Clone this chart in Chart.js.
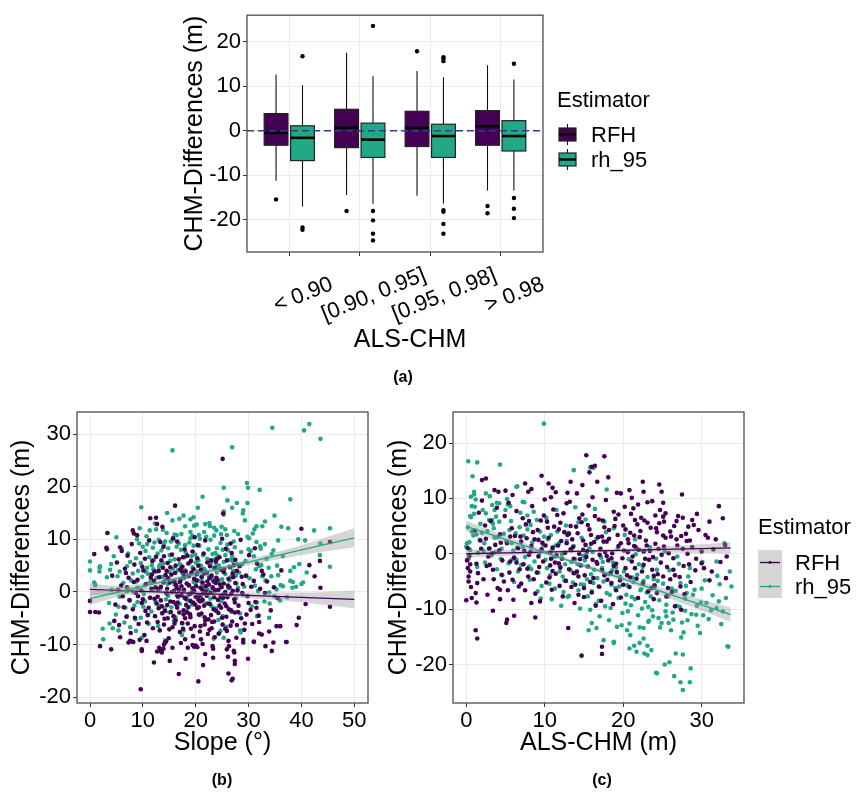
<!DOCTYPE html>
<html><head><meta charset="utf-8">
<script src="https://cdn.jsdelivr.net/npm/chart.js@4.4.0/dist/chart.umd.min.js"></script>
<style>
body{margin:0;background:#fff;width:859px;height:793px;overflow:hidden;position:relative;font-family:"Liberation Sans",Arial,sans-serif}
canvas{position:absolute}
.lab{position:absolute;font-weight:bold;font-size:16px;color:#000;transform:translate(-50%,-50%);white-space:nowrap}
</style></head><body>
<canvas id="ca" width="859" height="395" style="left:0;top:0"></canvas>
<canvas id="cb" width="400" height="398" style="left:0;top:395px"></canvas>
<canvas id="cc" width="479" height="398" style="left:380px;top:395px"></canvas>
<div class="lab" style="left:403px;top:377px">(a)</div>
<div class="lab" style="left:222px;top:780px">(b)</div>
<div class="lab" style="left:602px;top:780px">(c)</div>
<script>
// ---------------- DATA ----------------
const estimators = ['RFH', 'rh_95'];
const boxCategories = ['< 0.90', '[0.90, 0.95]', '[0.95, 0.98]', '> 0.98'];
// [lower whisker, Q1, median, Q3, upper whisker]
const rfhBoxStats = [[-11.2,-3.26,-0.5,3.84,12.6],[-14.4,-3.8,0.65,4.8,17.5],[-14.6,-3.55,0.65,4.35,13.4],[-13.4,-3.26,1.0,4.5,14.7]];
const rh95BoxStats = [[-17.0,-6.7,-1.6,1.1,10.2],[-16.4,-6.0,-2.0,1.7,12.2],[-16.3,-6.0,-1.2,1.45,12.0],[-13.4,-4.55,-1.2,2.25,11.5]];
const rfhOutliers = [[-15.4],[-18.0],[17.8],[-16.9,-18.5]];
const rh95Outliers = [[16.7,-21.7,-22.2],[23.5,-18.0,-20.1,-23.1,-24.6],[16.5,16.2,15.6,-17.8,-18.2,-20.9,-23.1],[15.0,-15.1,-17.5,-19.6]];
const boxYTicks = [-20,-10,0,10,20];

// Panel (b): Slope vs CHM-Differences
const slopeTicks = [0,10,20,30,40,50];
const slopeDiffTicks = [-20,-10,0,10,20,30];
const slopeRfhPoints = [
[0.8,7.2],[3.2,8.1],[3.3,11.2],[0,-1.7],[0,-3.8],[1,-3.8],[1.7,-3.9],[1.9,-10.3],[4,-10.9],[7.6,-9.3],[8.2,-9.5],[9.8,-10.9],[9.6,-18.5],[10.7,-9.3],[12.1,-13.4],[13.1,-10.6],[13.6,-11.5],[13.9,-10.8],[13.3,-11.2],[14.2,-9.6],[14.0,-10.0],[15.1,-13.1],[15.6,-10.6],[16.8,-15.6],[18,-9.0],[18.1,-12.7],[18.5,-10.6],[19.4,-10.1],[19.7,-10.4],[20.0,-10.2],[20.3,-10.5],[20.5,-17.0],[21.4,-13.9],[21.3,-9.9],[23.2,-10.3],[23.3,-10.8],[23.3,-12.5],[25.9,-10.9],[26.1,-12.3],[26.3,-10.3],[26.2,-15.5],[26.8,-16.8],[27.0,-16.5],[27.2,-11.2],[27.3,-11.5],[27.4,-13.1],[27.4,-13.7],[29,-9.6],[29.9,-12.7],[31,-9.5],[33.2,-10.3],[34.4,-11.2],[34.7,-9.6],[37.1,-9.5],
[25.1,25.3],[16.1,16.4],[11.4,14.0],[12.7,12.9],[25.2,14.9],[40.0,12.0],[45.4,9.5],[41.5,5.1],[43.5,5.9],[42.5,3.0],[43.6,0.8],[45.4,-2.8],[40.8,-2.3],[39.5,-4.9],[39.1,-6.3],[37.2,-9.5],[36.0,-6.5],[35.3,-6.5],[33.9,-7.5],[32.0,-7.9],[31.0,-9.4],
[7.3,-9.6],[7.9,-9.4],[9.8,-11.2],[12.7,-11.3],[13.6,-10.9],[21.8,-11.8],[3.1,8.4],[5.7,8.5],[8.1,11.7],[8.3,11.1],[12.5,14.1],[13.7,12.4],
[4.2,3.1],[4.8,-2.4],[5.1,5.6],[5.5,-6.3],[5.9,1.2],[6.2,-0.8],[6.6,4.4],[6.9,-4.7],[7.3,2.7],[7.7,-7.8],[7.1,6.9],[5.3,0.4],[6.4,-2.9],[7.9,9.1],[4.6,-5.5],[6.0,7.8],[7.5,-1.6],[5.7,-8.6],[7.0,0.9],[6.8,3.6],
[8.1,-3.3],[8.4,5.2],[8.7,-0.2],[9.0,2.3],[9.2,-6.1],[9.5,7.4],[9.8,-2.1],[10.1,4.1],[10.3,-8.2],[10.6,1.5],[10.9,-4.4],[11.2,9.8],[11.4,-1.1],[11.7,3.3],[11.9,-6.9],[8.9,10.8],[9.4,-9.1],[10.4,6.3],[11.1,-3.0],[11.6,0.6],[8.3,1.9],[10.8,-5.8],[9.7,0.3],[11.8,5.9],[10.0,-1.4],
[12.1,2.1],[12.3,-4.6],[12.5,6.7],[12.8,-0.9],[13.0,4.0],[13.2,-7.3],[13.4,1.0],[13.6,-2.7],[13.9,8.6],[14.1,-5.1],[14.3,3.2],[14.5,-0.3],[14.7,5.5],[14.9,-8.8],[15.1,1.8],[15.3,-3.8],[15.5,7.1],[15.8,-1.9],[15.9,0.2],[12.6,-2.2],[13.3,9.5],[14.0,-6.2],[14.8,2.6],[15.6,-6.7],[12.2,3.9],[13.7,-4.0],[15.2,4.7],[12.9,0.5],[14.4,-9.4],[15.7,10.2],[13.5,6.0],[14.6,-2.5],
[16.1,3.6],[16.2,-5.4],[16.4,0.8],[16.6,-2.0],[16.8,6.2],[17.0,-7.6],[17.1,2.2],[17.3,-0.6],[17.5,4.8],[17.7,-3.5],[17.9,8.1],[18.1,-1.3],[18.3,1.6],[18.5,-6.0],[18.7,3.0],[18.9,-4.2],[19.1,5.9],[19.3,-0.1],[19.5,-8.4],[19.7,2.5],[19.9,-2.4],[16.5,9.6],[17.2,-9.7],[17.8,0.4],[18.4,6.9],[19.0,-1.7],[19.6,4.3],[16.9,-3.9],[18.0,-5.0],[19.4,7.7],[16.3,1.3],[17.6,-7.0],[18.8,-0.4],[19.8,10.4],[17.4,3.9],[18.6,-2.9],
[20.1,1.1],[20.3,-3.1],[20.5,5.0],[20.7,-0.7],[20.9,-6.5],[21.1,2.9],[21.3,-1.5],[21.5,7.3],[21.7,-4.8],[21.9,0.1],[22.1,3.7],[22.3,-8.0],[22.5,1.4],[22.7,-2.3],[22.9,6.0],[23.1,-5.7],[23.3,0.7],[23.5,-1.0],[23.7,4.5],[23.9,-3.6],[20.4,8.9],[21.0,-9.0],[21.6,-2.6],[22.2,5.6],[22.8,-0.2],[23.4,2.0],[20.6,-4.3],[21.8,9.8],[23.0,-6.9],[23.8,1.7],[20.2,3.4],[22.4,-5.2],[21.2,0.5],[23.6,-8.6],[22.6,2.6],[20.8,-1.8],
[24.1,2.3],[24.3,-4.0],[24.5,6.6],[24.7,-0.9],[24.9,0.9],[25.1,-6.2],[25.3,3.8],[25.5,-2.2],[25.7,8.2],[25.9,-7.4],[26.1,1.2],[26.3,-3.3],[26.5,4.7],[26.7,-0.4],[26.9,-5.6],[27.1,2.8],[27.3,-1.4],[27.5,6.1],[27.7,-8.7],[27.9,0.3],[24.4,-7.9],[25.0,10.1],[25.6,0.0],[26.2,-9.3],[26.8,7.4],[27.4,-3.9],[24.8,4.2],[25.8,-4.7],[26.6,9.2],[27.8,-6.3],[25.2,-1.1],[27.0,3.5],
[28.1,-2.6],[28.3,4.9],[28.6,-5.0],[28.9,1.5],[29.2,-7.2],[29.5,3.1],[29.8,-0.8],[30.1,7.0],[30.4,-3.4],[30.7,-6.1],[31.0,2.1],[31.3,-1.9],[31.6,5.4],[31.9,-4.5],[32.2,0.6],[32.5,-8.1],[32.8,3.3],[28.5,9.9],[29.0,-9.1],[30.0,-2.1],[31.2,8.3],[32.0,-5.7],[33.1,-0.2],[33.5,2.0],[34.2,-3.5],[34.8,0.9],[35.5,-1.2],[36.2,4.1],
[12.4,0.9],[12.8,-5.7],[13.1,2.8],[13.4,-1.6],[13.8,4.6],[14.2,-3.6],[14.6,0.6],[15.0,-7.1],[15.4,3.3],[15.8,-4.6],[16.2,5.0],[16.6,-0.8],[17.0,1.9],[17.4,-5.9],[17.8,3.0],[18.2,-2.5],[18.6,5.4],[19.0,-4.8],[19.4,0.7],[19.8,-6.5],[20.2,2.2],[20.6,-2.9],[21.0,4.2],[21.4,-0.3],[21.8,-5.4],[22.2,2.0],[22.6,-7.2],[23.0,3.1],[23.4,-3.3],[23.8,5.8],[24.2,-1.5],[24.6,1.4],[25.0,-4.9],[25.4,4.4],[25.8,-2.7],[26.2,2.5],[26.6,-6.4],[27.0,0.2],[27.4,-2.0],[27.8,4.0],
[12.2,-1.3],[13.0,-3.1],[13.9,1.8],[14.7,-5.0],[15.5,0.0],[16.3,-2.4],[17.1,4.3],[17.9,-1.1],[18.7,1.3],[19.5,-2.0],[20.3,6.4],[21.1,-4.1],[21.9,1.1],[22.7,4.9],[23.5,-5.6],[24.3,0.4],[25.1,-0.6],[25.9,6.0],[26.7,-3.5],[27.5,1.7],
[14.0,6.8],[15.2,-1.8],[16.0,-6.0],[16.8,0.4],[17.6,6.6],[18.4,-3.9],[19.2,3.7],[20.0,-0.9],[20.8,-7.5],[21.6,3.5],[22.4,-2.2],[23.2,0.9],[24.0,6.2],[24.8,-3.0],[25.6,-7.0],[26.4,0.9],[27.2,5.1],[28.0,-3.8],[28.8,-0.2],[29.6,-4.3],
[11.5,2.7],[10.5,-3.6],[9.9,4.8],[9.1,-0.8],[8.5,-4.9],[30.5,1.0],[31.5,-3.0],[32.5,4.0],[29.3,-6.0],[28.7,2.9],
[19.7,0.2],[20.5,-1.5],[21.3,1.8],[18.9,-0.4],[22.1,-0.7],[17.3,1.1],[23.7,0.3],[16.5,-3.0],[24.5,-2.6],[15.9,2.0],[25.3,1.6],[19.1,-7.0],[21.7,-6.2],[20.9,0.8],[18.1,3.9],[22.9,-4.4],[23.9,2.7],[17.7,-4.3],[26.0,-1.0],[14.5,4.0]
];
const slopeRh95Points = [
[15.6,26.9],[9.7,16.1],[14.6,15.0],[21.3,18.1],[25.3,19.8],[25.3,15.3],[20.4,16.0],[17.7,14.5],[19.0,13.8],[19.6,14.2],[21.8,12.9],[22.7,12.5],[23.5,12.2],[23.9,11.7],[25.6,11.9],[24.8,11.0],[11.3,11.7],[12.5,11.9],[8.9,10.0],[10.8,9.1],[14.2,9.6],[15.8,10.0],[18.0,12.5],[16.4,10.8],[19.0,11.4],[19.3,10.7],[20.6,10.8],
[34.5,31.2],[40.5,30.7],[41.5,31.9],[43.6,29.1],[26.9,27.5],[29.7,20.7],[29.9,19.8],[32.1,19.4],[37.9,17.6],[26.0,17.4],[27.8,16.9],[29.8,16.9],[26.9,16.0],[29.0,15.5],[28.9,14.9],[25.3,14.7],[34.9,14.5],[33.1,13.4],[32.6,12.5],[31.5,12.5],[31.1,11.9],[29.3,13.6],[36.2,12.4],[37.5,12.1],[42.4,11.7],[45.4,12.1],[39.4,10.0],[40.7,9.8],[43.6,9.2],[35.6,9.8],[34.7,7.9],[33.1,9.1],[31.5,9.5],[30.1,10.2],[32.3,8.2],
[39.6,5.3],[45.4,4.8],[37.9,2.1],[38.3,0.8],[40.0,1.5],[39.0,1.0],[36.0,-1.6],[34.3,3.0],[35.6,3.2],[36.1,1.3],[34.0,-2.2],[33.9,-4.9],[31.6,-2.0],[28.5,-7.7],[28.4,-7.3],[25.1,-4.6],[24.7,-7.4],[43.5,7.0],[41.0,3.7],[37.9,4.0],[38.4,1.9],[40.3,1.8],[36.5,1.1],[35.3,0.5],[33.9,-0.1],
[0,5.8],[0,4.1],[1.8,3.9],[1.9,4.9],[0.8,1.8],[1.0,1.3],[2.5,-9.0],[2.4,-7.0],[3.7,-6.0],[5.4,-7.3],[4.0,5.3],[1.8,4.6],[3.8,4.2],[5.6,3.9],[7.0,-4.6],[7.6,-6.7],[8.7,-7.4],[9.8,-8.7],[14.2,-9.2],[17.4,-8.2],[17.7,-7.3],[23.4,-8.9],[24.3,-8.0],[25.3,-8.7],
[3.2,2.8],[3.6,-2.1],[4.1,0.4],[4.5,6.8],[4.9,-4.3],[5.2,3.0],[5.6,-0.9],[6.0,8.2],[6.3,1.7],[6.7,-3.0],[7.0,4.9],[7.4,-1.5],[7.8,2.2],[5.0,10.4],[6.5,-5.8],[7.2,7.3],[4.3,-6.9],[6.9,0.1],[7.6,5.7],[5.4,-2.8],
[8.1,3.5],[8.4,-2.6],[8.7,6.4],[9.0,0.8],[9.3,9.2],[9.6,-4.9],[9.9,2.9],[10.2,-0.4],[10.5,7.8],[10.8,4.6],[11.1,-6.1],[11.4,1.9],[11.7,5.1],[8.6,-5.2],[9.4,12.1],[10.1,-2.8],[10.7,10.6],[11.3,-1.1],[11.9,8.4],[9.1,4.0],[10.4,1.3],[11.6,-3.7],[8.2,0.0],[11.0,3.4],
[12.1,6.1],[12.4,-1.8],[12.7,3.9],[13.0,9.9],[13.3,0.6],[13.6,-4.1],[13.9,5.4],[14.2,2.3],[14.5,11.2],[14.8,-0.7],[15.1,7.0],[15.4,-2.9],[15.7,4.4],[12.3,13.0],[12.9,-6.5],[13.5,7.9],[14.1,-3.2],[14.7,1.5],[15.3,9.6],[15.9,-5.4],[12.6,2.7],[13.8,11.8],[14.4,-1.4],[15.0,3.8],[15.6,13.6],[13.1,4.8],
[16.1,2.0],[16.4,8.6],[16.7,-1.0],[17.0,5.3],[17.3,11.0],[17.6,0.2],[17.9,6.6],[18.2,-3.6],[18.5,3.1],[18.8,9.4],[19.1,-0.3],[19.4,4.7],[19.7,12.6],[16.2,-4.8],[16.9,13.9],[17.5,-6.0],[18.1,7.5],[18.7,1.2],[19.3,-2.4],[19.9,7.1],[16.6,4.1],[17.8,2.6],[19.0,10.2],[18.4,-0.9],[17.2,8.0],[19.6,1.9],[16.0,10.9],[18.9,5.6],
[20.1,3.3],[20.4,-0.6],[20.7,8.8],[21.0,5.0],[21.3,1.4],[21.6,11.4],[21.9,-2.2],[22.2,6.3],[22.5,3.0],[22.8,9.9],[23.1,-0.1],[23.4,4.6],[23.7,7.4],[20.2,12.8],[20.8,-4.4],[21.4,7.0],[22.0,0.9],[22.6,13.1],[23.2,2.4],[23.8,-3.1],[20.5,6.0],[21.7,4.1],[22.9,5.5],[23.5,10.7],[21.2,-1.7],[22.4,8.1],[20.9,2.1],[23.9,5.2],
[24.1,6.9],[24.4,2.1],[24.7,9.3],[25.0,-1.3],[25.3,5.7],[25.6,3.4],[25.9,10.8],[26.2,0.7],[26.5,6.1],[26.8,-3.8],[27.1,4.0],[27.4,8.5],[27.7,1.6],[24.3,-5.3],[24.9,12.4],[25.5,-0.2],[26.1,7.9],[26.7,2.9],[27.3,11.6],[27.9,5.3],[24.6,4.5],[25.8,-6.6],[26.4,4.8],[27.6,-1.2],[25.1,8.0],[26.9,6.7],
[28.2,3.7],[28.6,7.6],[29.0,-0.5],[29.4,5.9],[29.8,10.5],[30.2,2.6],[30.6,-2.7],[31.0,6.8],[31.4,4.3],[31.8,0.2],[32.2,8.7],[32.6,3.0],[33.0,-1.8],[33.4,6.3],[33.8,4.6],[28.4,-4.1],[29.2,1.0],[30.0,8.1],[30.8,11.1],[31.6,-4.6],[32.4,5.1],[33.2,2.2],[34.4,7.2],[34.9,-0.8],[35.4,5.0],[36.5,6.8],[37.3,-1.0],[38.6,4.7],
[8.8,2.0],[9.6,5.5],[10.4,-1.8],[11.2,6.6],[12.0,0.5],[12.8,7.3],[13.6,2.9],[14.4,-0.2],[15.2,5.9],[16.0,1.4],[16.8,9.2],[17.6,3.5],[18.4,-1.6],[19.2,6.8],[20.0,1.5],[20.8,10.1],[21.6,4.4],[22.4,0.3],[23.2,7.2],[24.0,3.7],[24.8,-1.7],[25.6,7.0],[26.4,2.2],[27.2,9.6],[28.0,0.8],[28.8,5.3],[29.6,3.0],[30.4,7.8],[31.2,1.2],[32.0,4.9],
[9.0,-1.9],[10.0,8.6],[11.0,-4.4],[12.0,4.3],[13.0,-2.6],[14.0,9.0],[15.0,-3.9],[16.0,6.2],[17.0,-2.3],[18.0,8.9],[19.0,-4.4],[20.0,5.6],[21.0,-1.0],[22.0,10.5],[23.0,-2.7],[24.0,8.3],[25.0,2.4],[26.0,-0.8],[27.0,5.9],[28.0,11.0],
[13.2,5.1],[14.8,8.3],[16.4,-0.6],[18.0,4.1],[19.6,8.8],[21.2,2.7],[22.8,-1.3],[24.4,5.0],[26.0,9.0],[27.6,3.1],[10.6,3.8],[12.2,9.4],[17.2,5.0],[20.4,3.9],[23.6,6.2]
];
const slopeFitX = [0,10,20,30,40,50];
const slopeRh95Fit = [-1.25,1.06,3.37,5.68,7.99,10.3];
const slopeRh95Upper = [0.0,1.65,3.8,6.2,8.9,12.1];
const slopeRh95Lower = [-2.5,0.45,2.9,5.1,7.0,8.5];
const slopeRfhFit = [0.5,0.12,-0.26,-0.64,-1.02,-1.4];
const slopeRfhUpper = [1.6,0.7,0.19,-0.1,-0.1,0.3];
const slopeRfhLower = [-0.6,-0.46,-0.71,-1.18,-1.94,-3.1];

// Panel (c): ALS-CHM vs CHM-Differences
const chmTicks = [0,10,20,30];
const chmDiffTicks = [-20,-10,0,10,20];
const chmRfhPoints = [
[15.3,17.8],[17.6,17.6],[16.0,15.7],[16.4,15.9],[15.7,14.7],[16.7,13.0],[9.6,14.1],[7.9,11.2],[8.3,11.7],[2.0,13.3],[2.5,13.6],[3.6,11.5],[4.1,11.2],[7.5,12.7],[10.5,12.7],[11.0,11.9],[11.4,11.1],[10.8,10.2],[5.0,11.4],[5.9,10.6],[13.3,13.0],[14.8,12.4],[14.1,10.9],[12.9,11.0],
[1.2,-7.1],[0.7,-8.0],[1.3,-8.8],[0.0,-8.4],[0.5,-3.2],[0.3,-5.0],[1.2,-13.8],[1.4,-15.3],[3.4,-10.3],[4.3,-8.2],[5.2,-11.9],[5.1,-12.5],[6.1,-11.2],[8.8,-11.5],[8.3,-8.9],[4.3,-6.5],[13.0,-13.4],[14.7,-18.4],[17.3,-16.8],[17.3,-18.1],
[18.1,13.8],[22.5,13.0],[24.6,12.5],[27.5,10.7],[24.9,11.2],[32.2,8.6],[32.7,6.4],[31.0,5.8],[28.8,6.1],[27.6,6.5],[26.8,5.9],[26.5,5.0],[26.1,3.1],[28.3,4.9],[28.1,2.3],[25.1,6.7],[24.6,5.5],[25.2,5.8],[33.2,-0.5],[30.8,2.9],[31.8,2.6],[22.6,11.2],[20.8,11.5],[21.1,10.1],[19.2,11.0],[19.7,10.9],[21.9,8.9],[23.1,9.3],[23.7,9.5],[21.5,6.1],[24.1,6.9],[25.1,9.2],
[30.0,-1.7],[31.3,-3.2],[33.1,-4.4],[26.6,-9.5],[25.5,-7.7],[24.3,-7.1],[27.4,-10.1],[27.3,-5.9],[25.7,-6.2],[25.1,-4.1],[26.4,-2.9],
[0.1,-1.2],[0.2,-2.6],[0.4,-0.4],[0.3,-4.1],[0.6,-6.0],[0.2,1.0],[0.5,-1.9],
[1.1,4.2],[1.3,-1.8],[1.6,7.4],[1.9,0.9],[2.2,-4.6],[2.5,2.7],[2.8,-0.5],[3.1,5.9],[3.4,-2.9],[3.7,1.6],[4.0,-6.2],[4.3,3.5],[4.6,-1.2],[4.9,6.8],[1.4,-5.3],[2.0,9.6],[2.7,-7.4],[3.3,0.1],[3.9,8.3],[4.5,-3.8],[1.8,2.4],[3.0,-2.0],[4.2,0.6],[2.4,5.1],[4.8,-5.0],
[5.2,1.9],[5.5,-3.4],[5.8,4.6],[6.1,-0.7],[6.4,7.7],[6.7,-5.9],[7.0,2.2],[7.3,-1.9],[7.6,5.3],[7.9,-4.1],[8.2,0.4],[8.5,3.9],[8.8,-7.2],[5.4,9.2],[6.0,-8.3],[6.6,1.0],[7.2,6.4],[7.8,-2.7],[8.4,8.6],[5.9,-4.7],[6.9,3.1],[8.0,-0.2],[8.7,2.6],[5.6,-1.4],[7.5,-6.6],
[9.1,4.3],[9.3,-2.4],[9.6,0.8],[9.9,6.9],[10.2,-5.2],[10.5,2.9],[10.8,-0.9],[11.1,8.0],[11.4,-3.6],[11.7,1.5],[12.0,5.6],[12.3,-7.7],[12.6,0.2],[12.9,3.4],[9.4,-8.6],[10.0,9.8],[10.6,-4.3],[11.2,4.9],[11.8,-1.7],[12.4,7.3],[9.7,2.0],[10.9,-6.5],[11.5,-0.3],[12.7,-4.9],[10.3,5.8],[12.1,2.3],[9.2,-0.5],[11.0,1.1],[12.8,9.1],[10.7,-2.1],
[13.1,-2.8],[13.3,5.0],[13.6,1.2],[13.9,-5.6],[14.2,3.7],[14.5,-1.0],[14.8,7.1],[15.1,-3.9],[15.4,0.5],[15.7,4.4],[16.0,-7.0],[16.3,2.1],[16.6,-1.5],[16.9,6.2],[13.2,9.4],[13.8,-8.9],[14.4,0.0],[15.0,-6.2],[15.6,8.7],[16.2,-4.4],[16.8,3.0],[13.5,2.6],[14.1,-3.2],[14.7,5.7],[15.3,-0.6],[15.9,1.8],[16.5,-9.4],[13.7,-0.9],[14.9,2.4],[16.1,10.2],[15.5,-2.3],[14.3,-7.4],
[17.1,0.9],[17.3,-3.0],[17.6,4.8],[17.9,-0.4],[18.2,2.7],[18.5,-5.3],[18.8,7.6],[19.1,-1.8],[19.4,1.4],[19.7,-7.9],[20.0,5.1],[20.3,-2.6],[20.6,0.3],[20.9,3.8],[17.2,-8.5],[17.8,9.7],[18.4,-3.5],[19.0,6.3],[19.6,-4.8],[20.2,8.5],[20.8,-6.0],[17.5,2.2],[18.1,-1.2],[18.7,-9.1],[19.3,3.4],[19.9,-0.8],[20.5,-3.9],[17.4,6.0],[18.6,0.1],[20.7,1.9],
[21.1,-1.4],[21.4,3.3],[21.7,-4.5],[22.0,0.7],[22.3,6.5],[22.6,-2.0],[22.9,2.4],[23.2,-6.8],[23.5,4.7],[23.8,-0.6],[24.1,1.8],[24.4,-3.7],[24.7,7.9],[21.3,8.2],[21.9,-8.0],[22.5,-5.4],[23.1,5.6],[23.7,-2.9],[24.3,3.9],[24.9,-0.2],[21.6,1.2],[22.8,-0.9],[24.0,-5.7],[22.2,4.1],[23.4,0.5],
[25.2,1.3],[25.6,-2.4],[26.0,4.0],[26.4,-0.8],[26.8,2.6],[27.2,-4.2],[27.6,0.9],[28.0,3.6],[28.4,-1.9],[28.8,1.2],[29.2,-3.0],[29.6,4.3],[30.0,0.4],[25.4,7.3],[26.2,-6.9],[27.0,6.8],[27.8,-7.3],[28.6,-5.1],[29.4,7.2],[30.3,-2.6],[25.8,0.1],[26.6,-3.9],[27.4,3.2],[28.2,0.0],[29.0,5.2],[31.5,0.8],[32.4,-1.5],[33.0,1.6],
[6.2,3.2],[6.8,-2.8],[7.4,0.5],[8.0,5.9],[8.6,-4.6],[9.2,2.5],[9.8,-1.4],[10.4,4.7],[11.0,-3.1],[11.6,7.0],[12.2,-0.9],[12.8,1.9],[13.4,-6.0],[14.0,4.9],[14.6,-2.1],[15.2,1.6],[15.8,-5.1],[16.4,6.8],[17.0,-0.2],[17.6,-3.9],[18.2,4.3],[18.8,-2.2],[19.4,7.1],[20.0,-5.6],[20.6,2.6],[21.2,-0.5],[21.8,5.3],[22.4,-3.2],[23.0,1.5],[23.6,-6.2],[24.2,4.6],[24.8,-1.6],[25.4,2.9],[26.0,-4.6],
[7.0,-5.4],[8.3,1.4],[9.5,6.0],[10.7,0.2],[11.9,-5.8],[13.1,3.6],[14.3,-4.1],[15.5,5.2],[16.7,-1.8],[17.9,2.2],[19.1,-6.6],[20.3,4.4],[21.5,-2.6],[22.7,6.0],[23.9,-4.0],[25.1,3.3],
[10.1,1.5],[11.3,-1.6],[12.5,3.9],[13.7,-3.5],[14.9,0.7],[16.1,-1.1],[17.3,3.1],[18.5,-0.8],[19.7,1.9],[20.9,-4.3],[22.1,3.0],[23.3,-1.1],[12.0,-2.5],[15.9,3.4],[18.0,-4.7],[20.1,0.6],[14.4,6.4],[16.9,-5.9],[19.2,-3.3],[21.4,1.4],[13.3,0.8],[17.7,0.3],[22.6,0.4],[24.5,0.9],[9.0,-3.4],[11.8,4.4],[15.0,-7.8],[18.9,5.0],[21.0,7.2],[23.9,-8.2],
[3.5,-4.6],[2.6,-2.2],[4.4,2.0],[5.3,-6.6],[1.5,-3.5],[2.9,0.9],[5.6,3.1],[6.4,-1.6],[7.7,2.8],[26.9,1.5],[27.7,-2.2],[28.5,2.4],[29.3,-0.9],[30.5,3.4],[31.0,-4.8]
];
const chmRh95Points = [
[9.9,23.5],[0.25,16.7],[1.4,16.5],[4.3,16.1],[13.7,15.1],[15.8,15.6],[16.2,15.5],[17.9,11.6],[0.8,14.0],[1.0,10.7],[0.7,8.6],[0.5,6.8],[0.1,1.9],[0.0,1.3],[0.5,0.7],[6.5,12.2],[5.6,8.6],[3.0,10.4],[3.9,9.2],
[0.6,10.3],[1.0,11.2],[1.1,8.5],[6.4,12.1],[7.2,9.4],[5.2,9.9],[3.6,7.9],[4.2,9.1],[5.0,7.9],[3.3,6.1],[2.5,7.3],
[27.4,-15.1],[30.2,-11.1],[33.4,-16.8],[33.8,-5.9],[33.6,-3.2],[31.9,-1.4],[32.3,-5.5],[32.9,1.9],[32.7,-10.4],[28.1,-7.1],[26.4,-11.9],[24.9,-12.5],[25.5,-11.3],[23.8,-11.3],[23.2,-12.3],[22.6,-13.4],[22.6,-15.3],[20.9,-14.7],[20.5,-13.8],[19.2,-13.2],[18.8,-15.9],[17.5,-15.6],[16.6,-13.4],[15.6,-13.8],[16.0,-12.5],
[18.8,-16.1],[20.8,-17.1],[21.4,-16.6],[22.1,-16.1],[21.7,-17.7],[22.7,-18.0],[23.1,-16.6],[23.1,-18.3],[23.6,-17.4],[25.3,-20.0],[25.9,-19.6],[24.2,-21.5],[24.3,-21.6],[26.5,-22.1],[26.7,-18.0],[27.6,-18.2],[27.3,-23.2],[28.5,-23.2],[27.6,-24.6],[28.6,-20.7],[33.3,-16.7],
[0.2,4.8],[0.4,2.1],[0.6,6.6],[0.9,3.3],[1.2,9.8],[1.5,0.2],[1.8,5.4],[2.1,7.9],[2.4,-1.6],[2.7,4.1],[3.0,1.0],[3.3,8.8],[3.6,2.9],[3.9,-2.8],[4.2,5.8],[4.5,0.9],[4.8,3.6],[0.3,-0.9],[1.0,7.2],[1.7,2.5],[2.5,10.9],[3.2,-0.3],[3.8,6.7],[4.6,-3.9],[2.2,0.5],[4.0,3.0],[0.7,4.0],[2.9,6.1],[1.4,-2.4],[3.5,4.6],
[5.1,2.3],[5.4,-1.7],[5.7,5.9],[6.0,0.6],[6.3,3.7],[6.6,-3.2],[6.9,7.4],[7.2,1.2],[7.5,-0.6],[7.8,4.4],[8.1,-4.7],[8.4,2.0],[8.7,-1.4],[9.0,6.1],[9.3,0.0],[9.6,-5.8],[9.9,3.1],[5.3,8.9],[6.1,-5.1],[6.8,4.8],[7.4,9.3],[8.0,-2.3],[8.6,7.6],[9.2,-3.4],[9.8,1.6],[5.8,1.9],[7.0,-2.0],[8.2,5.2],[9.5,-8.1],[6.5,1.1],
[10.1,-1.1],[10.4,2.6],[10.7,-3.9],[11.0,0.8],[11.3,-6.3],[11.6,4.0],[11.9,-2.2],[12.2,-0.1],[12.5,-4.8],[12.8,2.3],[13.1,-7.6],[13.4,-1.5],[13.7,1.4],[14.0,-3.5],[14.3,5.7],[14.6,-5.5],[14.9,-0.4],[10.2,6.5],[10.9,-8.2],[11.5,7.9],[12.1,-9.4],[12.7,5.1],[13.3,-3.0],[13.9,8.4],[14.5,-9.9],[10.6,-5.4],[11.8,1.9],[13.0,3.8],[14.2,-1.9],[12.4,-6.9],[11.2,-0.6],[13.6,-5.2],
[15.1,-1.2],[15.4,-4.6],[15.7,1.0],[16.0,-6.8],[16.3,-2.9],[16.6,2.7],[16.9,-8.5],[17.2,-0.7],[17.5,-5.0],[17.8,3.9],[18.1,-3.7],[18.4,-9.8],[18.7,-1.6],[19.0,-6.2],[19.3,0.9],[19.6,-4.1],[19.9,-10.7],[15.2,6.2],[15.8,-10.1],[16.4,8.1],[17.0,-11.3],[17.6,5.8],[18.2,-12.0],[18.8,4.6],[19.4,-8.0],[15.5,-7.7],[16.7,-4.4],[17.9,-7.1],[19.1,-2.5],[16.1,0.3],[18.5,-5.6],[17.3,-2.6],
[20.1,-3.2],[20.4,-7.4],[20.7,-1.0],[21.0,-9.3],[21.3,-5.1],[21.6,-0.1],[21.9,-11.1],[22.2,-6.6],[22.5,-2.4],[22.8,-8.7],[23.1,-4.2],[23.4,1.2],[23.7,-10.2],[24.0,-6.0],[24.3,-2.9],[24.6,-8.4],[20.2,3.4],[20.8,-12.6],[21.5,2.6],[22.1,-13.3],[22.7,0.5],[23.3,-12.1],[23.9,-4.6],[24.5,-11.6],[20.5,-5.7],[21.8,-3.8],[23.0,-7.0],[24.2,-0.9],[21.1,-7.8],[22.4,-9.9],
[25.1,-5.4],[25.5,-9.2],[25.9,-3.0],[26.3,-10.6],[26.7,-6.7],[27.1,-1.8],[27.5,-12.4],[27.9,-8.1],[28.3,-4.1],[28.7,-10.9],[29.1,-6.5],[29.5,-13.0],[29.9,-8.8],[30.4,-4.8],[30.9,-11.8],[31.4,-7.5],[31.9,-9.8],[32.5,-12.7],[33.1,-8.0],[25.3,0.4],[26.1,-13.8],[26.9,-0.5],[27.7,-14.2],[28.5,-2.6],[29.3,-11.0],[30.1,-1.5],[25.7,-7.7],[27.3,-5.3],[28.9,-7.4],[32.0,-4.0],
[1.3,3.5],[2.3,1.9],[3.4,5.4],[4.4,-0.9],[5.5,4.3],[6.4,-1.1],[7.3,3.3],[8.3,-2.8],[9.4,4.0],[10.3,-2.6],[11.4,1.5],[12.3,-4.1],[13.4,0.6],[14.3,-6.6],[15.3,-0.1],[16.2,-5.3],[17.4,-1.5],[18.3,-7.4],[19.2,-3.4],[20.3,-9.0],[21.2,-4.3],[22.3,-6.4],[23.2,-9.6],[24.4,-4.9],[25.4,-10.4],[26.2,-6.3],[27.2,-9.6],[28.2,-12.0],[29.4,-9.4],[30.6,-8.9],
[2.0,3.8],[3.7,0.3],[5.9,-1.0],[7.8,6.9],[9.1,-6.8],[10.8,3.4],[12.6,-1.9],[14.7,2.9],[16.5,-9.1],[18.6,-3.0],[20.6,-10.4],[22.6,-4.9],[24.7,-13.3],[26.8,-9.4],[28.0,-5.8],[29.8,-14.3],[31.2,-10.2],[32.2,-8.6],
[11.9,-3.2],[13.9,-1.0],[15.9,-3.7],[17.7,-9.5],[19.5,-5.9],[21.5,-8.2],[23.5,-7.7],[25.8,-12.5],[27.9,-10.3],[30.0,-6.3],[12.9,-7.8],[15.0,-5.6],[17.0,-6.0],[19.8,-12.9],[22.0,-1.9]
];
const chmFitX = [0,5,10,15,20,25,30,33.7];
const chmRfhFit = [0,0.16,0.31,0.47,0.62,0.78,0.94,1.05];
const chmRfhUpper = [0.75,0.66,0.66,0.77,0.97,1.33,1.74,2.1];
const chmRfhLower = [-0.75,-0.34,-0.04,0.17,0.27,0.23,0.14,0.0];
const chmRh95Fit = [4.95,2.58,0.22,-2.15,-4.52,-6.88,-9.25,-11.0];
const chmRh95Upper = [5.9,3.2,0.64,-1.77,-4.07,-6.18,-8.2,-9.7];
const chmRh95Lower = [4.0,1.96,-0.2,-2.53,-4.97,-7.58,-10.3,-12.3];

// ---------------- STYLE ----------------
const FONT = '"Liberation Sans", Arial, sans-serif';
const COL_RFH = '#440154';
const COL_RH = '#22A884';
const GRID = '#EBEBEB';
const BAND = 'rgba(153,153,153,0.4)';
const DODGE = 0.1875, BOXW = 0.3375;

function axis(min, max, ticks, size, isX, title, titlePad, showLabels = true) {
  return {
    type: 'linear', min, max,
    afterBuildTicks: s => { s.ticks = ticks.map(v => ({ value: v })); },
    afterFit: s => { if (isX) s.height = size; else s.width = size; },
    grid: { color: GRID, lineWidth: 1, tickColor: '#333333', tickLength: 4, drawTicks: true },
    border: { display: false },
    ticks: { display: showLabels, color: '#000', font: { size: 22, family: FONT }, padding: isX ? 1 : 2,
             maxRotation: 0, minRotation: 0, autoSkip: false, callback: v => String(v) },
    title: title ? { display: true, text: title, color: '#000', font: { size: 25, family: FONT }, padding: titlePad } : { display: false }
  };
}
const pairs = arr => arr.map(p => ({ x: p[0], y: p[1] }));
const zipXY = (xs, ys) => xs.map((x, i) => ({ x, y: ys[i] }));
const baseOpts = (padding, scales) => ({
  responsive: false, animation: false, devicePixelRatio: 1, events: [],
  layout: { padding },
  plugins: { legend: { display: false }, tooltip: { enabled: false } },
  scales
});

const borderPlugin = {
  id: 'panelBorder',
  afterDatasetsDraw(chart) {
    const { ctx, chartArea: a } = chart;
    ctx.save(); ctx.strokeStyle = '#4d4d4d'; ctx.lineWidth = 1.3;
    ctx.strokeRect(a.left, a.top, a.right - a.left, a.bottom - a.top);
    ctx.restore();
  }
};

// ---------------- PANEL (a) ----------------
const boxPlugin = {
  id: 'boxes',
  beforeDatasetsDraw(chart) {
    const { ctx, scales: { x, y } } = chart;
    const groups = [{ stats: rfhBoxStats, color: COL_RFH, off: -DODGE }, { stats: rh95BoxStats, color: COL_RH, off: DODGE }];
    const hw = (x.getPixelForValue(1 + BOXW / 2) - x.getPixelForValue(1));
    ctx.save();
    groups.forEach(g => g.stats.forEach((s, i) => {
      const cx = x.getPixelForValue(i + 1 + g.off);
      const [lo, q1, md, q3, hi] = s.map(v => y.getPixelForValue(v));
      ctx.strokeStyle = '#111'; ctx.lineWidth = 1.1;
      ctx.beginPath(); ctx.moveTo(cx, hi); ctx.lineTo(cx, q3); ctx.moveTo(cx, q1); ctx.lineTo(cx, lo); ctx.stroke();
      ctx.fillStyle = g.color; ctx.fillRect(cx - hw, q3, 2 * hw, q1 - q3);
      ctx.lineWidth = 1.2; ctx.strokeStyle = '#222'; ctx.strokeRect(cx - hw, q3, 2 * hw, q1 - q3);
      ctx.strokeStyle = '#000'; ctx.lineWidth = 2.6;
      ctx.beginPath(); ctx.moveTo(cx - hw, md); ctx.lineTo(cx + hw, md); ctx.stroke();
    }));
    ctx.restore();
  },
  afterDraw(chart) {
    const { ctx, scales: { x } } = chart;
    ctx.save();
    ctx.fillStyle = '#000';
    ctx.font = '22px ' + FONT; ctx.textAlign = 'center'; ctx.textBaseline = 'middle';
    boxCategories.forEach((lab, i) => {
      const px = x.getPixelForValue(i + 1) + 14;
      ctx.save(); ctx.translate(px, 295); ctx.rotate(-22 * Math.PI / 180); ctx.fillText(lab, 0, 0); ctx.restore();
    });
    ctx.font = '25px ' + FONT;
    ctx.fillText('ALS-CHM', 410, 340);
    // legend
    ctx.textAlign = 'left';
    ctx.font = '22px ' + FONT;
    ctx.fillText('Estimator', 557, 101);
    const keys = [{ c: COL_RFH, y0: 128 }, { c: COL_RH, y0: 153 }];
    keys.forEach((k, i) => {
      ctx.strokeStyle = '#111'; ctx.lineWidth = 1.1;
      ctx.beginPath(); ctx.moveTo(567.5, k.y0 - 4); ctx.lineTo(567.5, k.y0 + 17); ctx.stroke();
      ctx.fillStyle = k.c; ctx.fillRect(559, k.y0, 17, 13);
      ctx.lineWidth = 1.2; ctx.strokeStyle = '#222'; ctx.strokeRect(559, k.y0, 17, 13);
      ctx.strokeStyle = '#000'; ctx.lineWidth = 2.4;
      ctx.beginPath(); ctx.moveTo(559, k.y0 + 6.5); ctx.lineTo(576, k.y0 + 6.5); ctx.stroke();
      ctx.fillStyle = '#000';
      ctx.fillText(estimators[i], 591, k.y0 + 8);
    });
    ctx.restore();
  }
};
const outlierPts = (lists, off) => lists.flatMap((arr, i) => arr.map(v => ({ x: i + 1 + off, y: v })));
new Chart(document.getElementById('ca'), {
  type: 'line',
  data: { datasets: [
    { data: [{ x: 0.4, y: 0 }, { x: 4.6, y: 0 }], borderColor: '#2F3C92', borderWidth: 1.5, borderDash: [7, 4], pointRadius: 0 },
    { label: 'RFH outliers', data: outlierPts(rfhOutliers, -DODGE), showLine: false, pointRadius: 2.2, pointBorderWidth: 0, pointBackgroundColor: '#000' },
    { label: 'rh_95 outliers', data: outlierPts(rh95Outliers, DODGE), showLine: false, pointRadius: 2.2, pointBorderWidth: 0, pointBackgroundColor: '#000' }
  ] },
  options: baseOpts({ left: 176, right: 316, top: 8, bottom: 0 }, {
    x: axis(0.4, 4.6, [1, 2, 3, 4], 143, true, null, null, false),
    y: axis(-27.2, 25.9, boxYTicks, 71, false, 'CHM-Differences (m)', { top: 4, bottom: 0 })
  }),
  plugins: [boxPlugin, borderPlugin]
});

// ---------------- PANELS (b), (c) ----------------
function scatterDatasets(fitX, rhFit, rhUp, rhLo, rfFit, rfUp, rfLo, rhPts, rfPts) {
  const line = (d, c) => ({ data: zipXY(fitX, d), borderColor: c, borderWidth: 1.3, pointRadius: 0, fill: false });
  const up = d => ({ data: zipXY(fitX, d), borderWidth: 0, borderColor: 'rgba(0,0,0,0)', pointRadius: 0, fill: '+1', backgroundColor: BAND, cubicInterpolationMode: 'monotone' });
  const lo = d => ({ data: zipXY(fitX, d), borderWidth: 0, borderColor: 'rgba(0,0,0,0)', pointRadius: 0, fill: false, cubicInterpolationMode: 'monotone' });
  const pts = (d, c, lab) => ({ label: lab, data: pairs(d), showLine: false, pointRadius: 2.3, pointBorderWidth: 0, pointBackgroundColor: c });
  // earlier datasets are drawn on top
  return [line(rhFit, COL_RH), up(rhUp), lo(rhLo), line(rfFit, COL_RFH), up(rfUp), lo(rfLo),
          pts(rfPts, COL_RFH, 'RFH'), pts(rhPts, COL_RH, 'rh_95')];
}

new Chart(document.getElementById('cb'), {
  type: 'line',
  data: { datasets: scatterDatasets(slopeFitX, slopeRh95Fit, slopeRh95Upper, slopeRh95Lower, slopeRfhFit, slopeRfhUpper, slopeRfhLower, slopeRh95Points, slopeRfhPoints) },
  options: baseOpts({ left: 5, right: 32, top: 17, bottom: 0 }, {
    x: axis(-2.46, 52.6, slopeTicks, 90, true, 'Slope (°)', { top: 0, bottom: 35 }),
    y: axis(-21.1, 34.2, slopeDiffTicks, 72, false, 'CHM-Differences (m)', { top: 2, bottom: 0 })
  }),
  plugins: [borderPlugin]
});

const legendC = {
  id: 'legendC',
  afterDraw(chart) {
    const ctx = chart.ctx;
    ctx.save();
    ctx.font = '22px ' + FONT; ctx.fillStyle = '#000'; ctx.textAlign = 'left'; ctx.textBaseline = 'middle';
    ctx.fillText('Estimator', 378, 133);
    const cols = [COL_RFH, COL_RH];
    cols.forEach((c, i) => {
      const top = 155 + i * 24;
      ctx.fillStyle = BAND; ctx.fillRect(378, top, 24, 24);
      ctx.strokeStyle = c; ctx.lineWidth = 1.4;
      ctx.beginPath(); ctx.moveTo(380, top + 12.5); ctx.lineTo(400, top + 12.5); ctx.stroke();
      ctx.fillStyle = c; ctx.beginPath(); ctx.arc(390, top + 12.5, 1.4, 0, Math.PI * 2); ctx.fill();
      ctx.fillStyle = '#000';
      ctx.fillText(estimators[i], 415, top + 14);
    });
    ctx.restore();
  }
};
new Chart(document.getElementById('cc'), {
  type: 'line',
  data: { datasets: scatterDatasets(chmFitX, chmRh95Fit, chmRh95Upper, chmRh95Lower, chmRfhFit, chmRfhUpper, chmRfhLower, chmRh95Points, chmRfhPoints) },
  options: baseOpts({ left: 2, right: 115, top: 17, bottom: 0 }, {
    x: axis(-1.69, 35.4, chmTicks, 90, true, 'ALS-CHM (m)', { top: 0, bottom: 35 }),
    y: axis(-26.95, 25.6, chmDiffTicks, 71, false, 'CHM-Differences (m)', { top: 2, bottom: 0 })
  }),
  plugins: [borderPlugin, legendC]
});
</script>
</body></html>
